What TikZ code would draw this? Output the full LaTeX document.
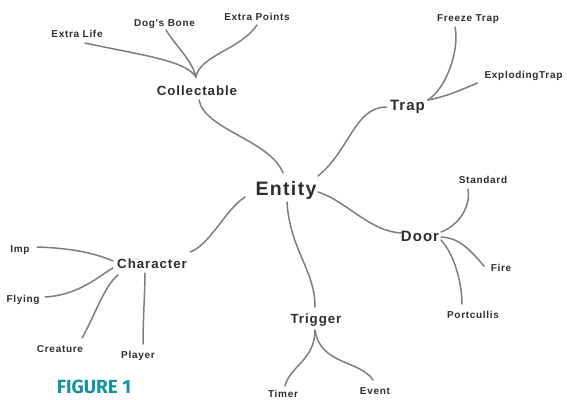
\documentclass[tikz,border=0pt]{standalone}
\usepackage{fontspec}
\newfontfamily\lbl[LetterSpace=7]{Liberation Sans}
\newfontfamily\figfont{Fira Sans}
\definecolor{txtgray}{HTML}{2E2E2E}
\definecolor{lngray}{HTML}{7E7E7E}
\definecolor{teal1}{HTML}{14939F}
\tikzset{
  lab/.style={anchor=base, inner sep=0pt, text=txtgray, font=\lbl\bfseries\fontsize{10}{12}\selectfont},
  mid/.style={lab, font=\lbl\bfseries\fontsize{13.3}{15}\selectfont},
  midb/.style={lab, font=\lbl\bfseries\fontsize{15}{17}\selectfont},
  root/.style={lab, font=\lbl\bfseries\fontsize{19.5}{22}\selectfont},
  link/.style={draw=lngray, line width=1.5pt, line cap=round},
  figlab/.style={anchor=base, inner sep=0pt, text=teal1, font=\figfont\bfseries\fontsize{19}{21}\selectfont}
}
\begin{document}
\begin{tikzpicture}[x=1pt,y=-1pt]
\useasboundingbox (0,0) rectangle (567,399);
\fill[white] (0,0) rectangle (567,399);
% nodes
\node[root] (entity) at (286,195) {Entity};
\node[mid] (collectable) at (197,95) {Collectable};
\node[lab] (extralife) at (77,37) {Extra Life};
\node[lab] (dogsbone) at (164.5,26) {Dog's Bone};
\node[lab] (extrapoints) at (257,20) {Extra Points};
\node[midb] (trap) at (407.5,110) {Trap};
\node[lab] (freeze) at (468,21) {Freeze Trap};
\node[lab] (exploding) at (523.5,78) {ExplodingTrap};
\node[midb] (door) at (420,241) {Door};
\node[lab] (standard) at (483,183) {Standard};
\node[lab] (fire) at (501,271) {Fire};
\node[lab] (portcullis) at (473,318) {Portcullis};
\node[mid] (trigger) at (316,323) {Trigger};
\node[lab] (timer) at (283,397) {Timer};
\node[lab] (event) at (375,394) {Event};
\node[mid] (character) at (152,268) {Character};
\node[lab] (imp) at (20,252) {Imp};
\node[lab] (flying) at (23,302) {Flying};
\node[lab] (creature) at (60,352) {Creature};
\node[lab] (player) at (138,358) {Player};
\node[figlab] (fig) at (94,393) {FIGURE 1};
% hub points
\coordinate (colhub) at ([shift={(-1,-18)}]collectable.base);
\coordinate (traphub) at ([shift={(20,-10)}]trap.base);
\coordinate (doorhub) at ([shift={(21,-9)}]door.base);
\coordinate (trighub) at ([shift={(-1,7)}]trigger.base);
% connectors
\draw[link] ([shift={(2,5)}]collectable.base) .. controls +(6,30) and +(-13,-33) .. ([shift={(-3,-22)}]entity.base);
\draw[link] ([shift={(8,6)}]extralife.base) .. controls +(55,12) and +(-11,-17) .. (colhub);
\draw[link] ([shift={(1.5,4)}]dogsbone.base) .. controls +(9,15) and +(-4,-17) .. (colhub);
\draw[link] ([shift={(0,5)}]extrapoints.base) .. controls +(-17,25) and +(4,-22) .. (colhub);
\draw[link] ([shift={(32,-19)}]entity.base) .. controls +(32,-26) and +(-32,0) .. ([shift={(-21,-3)}]trap.base);
\draw[link] (traphub) .. controls +(18,-10) and +(5,23) .. ([shift={(-13,6)}]freeze.base);
\draw[link] (traphub) .. controls +(18,-3) and +(-17,7) .. ([shift={(-46,5)}]exploding.base);
\draw[link] ([shift={(32,-3)}]entity.base) .. controls +(27,8) and +(-32,-1) .. ([shift={(-18,-8)}]door.base);
\draw[link] (doorhub) .. controls +(19,-7) and +(3,16) .. ([shift={(-15,6)}]standard.base);
\draw[link] ([shift={(21,-4)}]door.base) .. controls +(19,1) and +(-14,-16) .. ([shift={(-17,-5)}]fire.base);
\draw[link] ([shift={(21,-1)}]door.base) .. controls +(14,15) and +(0,-19) .. ([shift={(-11,-14)}]portcullis.base);
\draw[link] ([shift={(1,7)}]entity.base) .. controls +(3,48) and +(0,-37) .. ([shift={(-1,-16)}]trigger.base);
\draw[link] (trighub) .. controls +(0,30) and +(5,-20) .. ([shift={(2,-11)}]timer.base);
\draw[link] (trighub) .. controls +(5,35) and +(-13,-20) .. ([shift={(-2,-14)}]event.base);
\draw[link] ([shift={(-41,2)}]entity.base) .. controls +(-20,13) and +(20,-7) .. ([shift={(38,-16)}]character.base);
\draw[link] ([shift={(17,-5)}]imp.base) .. controls +(33,1) and +(-18,-8) .. ([shift={(-39,-7)}]character.base);
\draw[link] ([shift={(22,-5)}]flying.base) .. controls +(35,-2) and +(-13,7) .. ([shift={(-39,0)}]character.base);
\draw[link] ([shift={(22,-14)}]creature.base) .. controls +(13,-23) and +(-13,10) .. ([shift={(-34,7)}]character.base);
\draw[link] ([shift={(5,-14)}]player.base) .. controls +(0,-24) and +(0,17) .. ([shift={(-7,5)}]character.base);
\end{tikzpicture}
\end{document}
